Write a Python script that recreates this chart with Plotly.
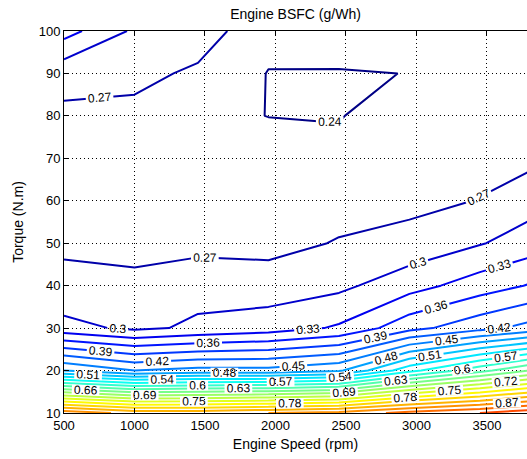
import plotly.graph_objects as go

# Engine operating grid
speed_rpm = [500, 1000, 1450, 1950, 2450, 2950, 3450, 3800]
torque_nm = [10, 20, 30, 40, 50, 60, 70, 80, 90, 100]

# Brake specific fuel consumption at each torque row, one value per speed
bsfc_t10 = [0.89, 0.86, 0.86, 0.87, 0.88, 0.91, 0.93, 0.95]
bsfc_t20 = [0.48, 0.45, 0.46, 0.46, 0.475, 0.56, 0.62, 0.66]
bsfc_t30 = [0.31, 0.294, 0.305, 0.315, 0.334, 0.38, 0.41, 0.43]
bsfc_t40 = [0.2755, 0.276, 0.29, 0.285, 0.293, 0.318, 0.345, 0.362]
bsfc_t50 = [0.2666, 0.262, 0.26, 0.26, 0.272, 0.28, 0.298, 0.3135]
bsfc_t60 = [0.262, 0.255, 0.252, 0.255, 0.258, 0.262, 0.271, 0.288]
bsfc_t70 = [0.262, 0.252, 0.248, 0.253, 0.25, 0.258, 0.26, 0.262]
bsfc_t80 = [0.265, 0.262, 0.247, 0.2396, 0.238, 0.262, 0.258, 0.258]
bsfc_t90 = [0.279, 0.278, 0.265, 0.239, 0.237, 0.2406, 0.255, 0.255]
bsfc_t100 = [0.342, 0.295, 0.285, 0.249, 0.265, 0.255, 0.258, 0.255]

bsfc = [bsfc_t10, bsfc_t20, bsfc_t30, bsfc_t40, bsfc_t50,
        bsfc_t60, bsfc_t70, bsfc_t80, bsfc_t90, bsfc_t100]

# Contour levels
level_start, level_end, level_step = 0.24, 1.08, 0.03

# Colour limits of the jet map (data range)
c_lo, c_hi = 0.235, 1.1


def jet(t):
    """MATLAB-style jet colormap, t in [0, 1]."""
    t = min(max(t, 0.0), 1.0)

    def ramp(x):
        return min(max(x, 0.0), 1.0)

    r = ramp(1.5 - abs(4 * t - 3))
    g = ramp(1.5 - abs(4 * t - 2))
    b = ramp(1.5 - abs(4 * t - 1))
    return "rgb(%d,%d,%d)" % (round(r * 255), round(g * 255), round(b * 255))


# Plotly maps the line colorscale over [start, last level]; remap so each
# level gets the jet colour of its value within the data colour limits.
n_levels = int(round((level_end - level_start) / level_step)) + 1
last_level = level_start + (n_levels - 1) * level_step
colorscale = []
for i in range(n_levels):
    p = i / (n_levels - 1)
    v = level_start + p * (last_level - level_start)
    colorscale.append([p, jet((v - c_lo) / (c_hi - c_lo))])

font_family = "Liberation Sans, Arial, Helvetica, sans-serif"

fig = go.Figure(
    go.Contour(
        x=speed_rpm,
        y=torque_nm,
        z=bsfc,
        colorscale=colorscale,
        showscale=False,
        contours=dict(
            coloring="lines",
            start=level_start,
            end=level_end,
            size=level_step,
            showlabels=True,
            labelformat=".2~f",
            labelfont=dict(family=font_family, size=12, color="black"),
        ),
        line=dict(width=2, smoothing=0),
        hoverinfo="skip",
    )
)

axis_common = dict(
    showline=True,
    linecolor="black",
    linewidth=1,
    ticks="inside",
    ticklen=5,
    tickcolor="black",
    showgrid=True,
    gridcolor="black",
    gridwidth=1,
    griddash="1px,3px",
    zeroline=False,
    tickfont=dict(family=font_family, size=13, color="black"),
    title_font=dict(family=font_family, size=14, color="black"),
)

fig.update_xaxes(
    range=[500, 3784],
    tickvals=[500, 1000, 1500, 2000, 2500, 3000, 3500],
    mirror="ticks",
    title_text="Engine Speed (rpm)",
    title_standoff=7,
    **axis_common,
)
fig.update_yaxes(
    range=[10, 100],
    tickvals=list(range(10, 101, 10)),
    mirror=False,
    title_text="Torque (N.m)",
    title_standoff=11,
    **axis_common,
)

fig.update_layout(
    width=527,
    height=459,
    margin=dict(l=64, r=0, t=31, b=46),
    paper_bgcolor="white",
    plot_bgcolor="white",
    title=dict(
        text="Engine BSFC (g/Wh)",
        x=0.5,
        xref="paper",
        xanchor="center",
        y=1 - 14 / 459,
        yref="container",
        yanchor="middle",
        font=dict(family=font_family, size=14, color="black"),
    ),
    showlegend=False,
)

fig.write_html("out.html")
